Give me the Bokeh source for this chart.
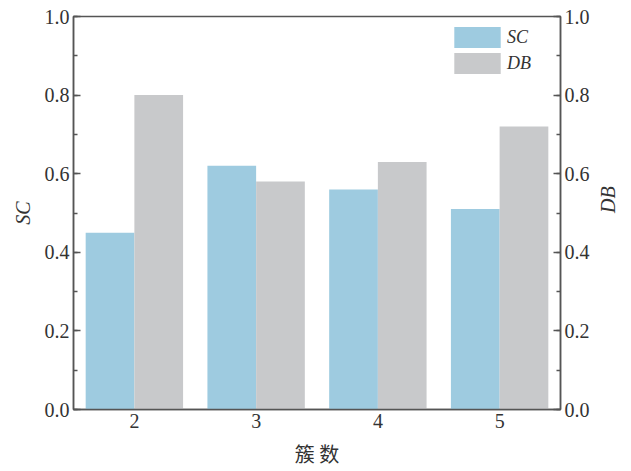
import math
from bokeh.plotting import figure
from bokeh.models import (ColumnDataSource, Range1d, LinearAxis, FactorRange, Legend,
                          LegendItem, PrintfTickFormatter, Title)
from bokeh.transform import dodge
from bokeh.embed import file_html
from bokeh.resources import INLINE

clusters = ["2", "3", "4", "5"]
sc_values = [0.45, 0.62, 0.56, 0.51]
db_values = [0.80, 0.58, 0.63, 0.72]

SC_COLOR = "#9ecbe0"
DB_COLOR = "#c8c9cb"
AX = "#555555"
TXT = "#333333"
SERIF = "Liberation Serif"

src = ColumnDataSource(dict(k=clusters, sc=sc_values, db=db_values))

p = figure(frame_width=487, frame_height=393, x_range=FactorRange(*clusters),
           y_range=Range1d(0, 1), output_backend="svg", toolbar_location=None)
p.min_border_left = 73
p.min_border_right = 63
p.min_border_top = 16
p.min_border_bottom = 56
p.background_fill_color = "white"
p.outline_line_color = AX
p.outline_line_width = 1.5
p.xgrid.visible = False
p.ygrid.visible = False

p.extra_y_ranges = {"db": Range1d(0, 1)}

r1 = p.vbar(x=dodge("k", -0.2, range=p.x_range), top="sc", width=0.4, source=src,
            fill_color=SC_COLOR, line_color=None)
r2 = p.vbar(x=dodge("k", 0.2, range=p.x_range), top="db", width=0.4, source=src,
            fill_color=DB_COLOR, line_color=None, y_range_name="db")

right = LinearAxis(y_range_name="db")
p.add_layout(right, "right")

for ax in (p.yaxis[0], right):
    ax.ticker.desired_num_ticks = 6
    ax.ticker.num_minor_ticks = 2
    ax.formatter = PrintfTickFormatter(format="%.1f")
    ax.major_tick_in = 7
    ax.major_tick_out = 0
    ax.minor_tick_in = 4
    ax.minor_tick_out = 0
    ax.axis_line_color = AX
    ax.axis_line_width = 1.5
    ax.major_tick_line_color = AX
    ax.minor_tick_line_color = AX
    ax.major_tick_line_width = 1.5
    ax.minor_tick_line_width = 1.5
    ax.major_label_text_font = SERIF
    ax.major_label_text_font_size = "20px"
    ax.major_label_text_color = TXT
    ax.axis_label_text_font = SERIF
    ax.axis_label_text_font_style = "italic"
    ax.axis_label_text_font_size = "20px"
    ax.axis_label_text_color = TXT
    ax.major_label_standoff = 4

p.yaxis[0].axis_label = "SC"
p.yaxis[0].axis_label_standoff = 8

if hasattr(right, "axis_label_orientation"):
    right.axis_label = "DB"
    right.axis_label_orientation = math.pi / 2
    right.axis_label_standoff = 15
else:
    t = Title(text="DB", align="center", text_font=SERIF, text_font_style="italic",
              text_font_size="20px", text_color=TXT)
    p.add_layout(t, "right")

xa = p.xaxis[0]
xa.axis_label = "簇 数"
xa.axis_label_text_font = "Noto Sans CJK SC"
xa.axis_label_text_font_style = "normal"
xa.axis_label_text_font_size = "20px"
xa.axis_label_text_color = TXT
xa.axis_line_color = AX
xa.axis_line_width = 1.5
xa.major_tick_in = 0
xa.major_tick_out = 0
xa.major_label_text_font = SERIF
xa.major_label_text_font_size = "20px"
xa.major_label_text_color = TXT
xa.major_label_standoff = 4
xa.axis_label_standoff = 8

legend = Legend(items=[LegendItem(label="SC", renderers=[r1]),
                       LegendItem(label="DB", renderers=[r2])],
                location="top_right")
legend.border_line_color = None
legend.background_fill_alpha = 0
legend.label_text_font = SERIF
legend.label_text_font_style = "italic"
legend.label_text_font_size = "18px"
legend.label_text_color = TXT
legend.glyph_width = 58
legend.glyph_height = 26
legend.label_height = 21
legend.spacing = -5
legend.padding = 0
legend.margin = 8
legend.label_standoff = 1
legend.label_width = 45
p.add_layout(legend)

open("out.html", "w").write(file_html(p, INLINE))
